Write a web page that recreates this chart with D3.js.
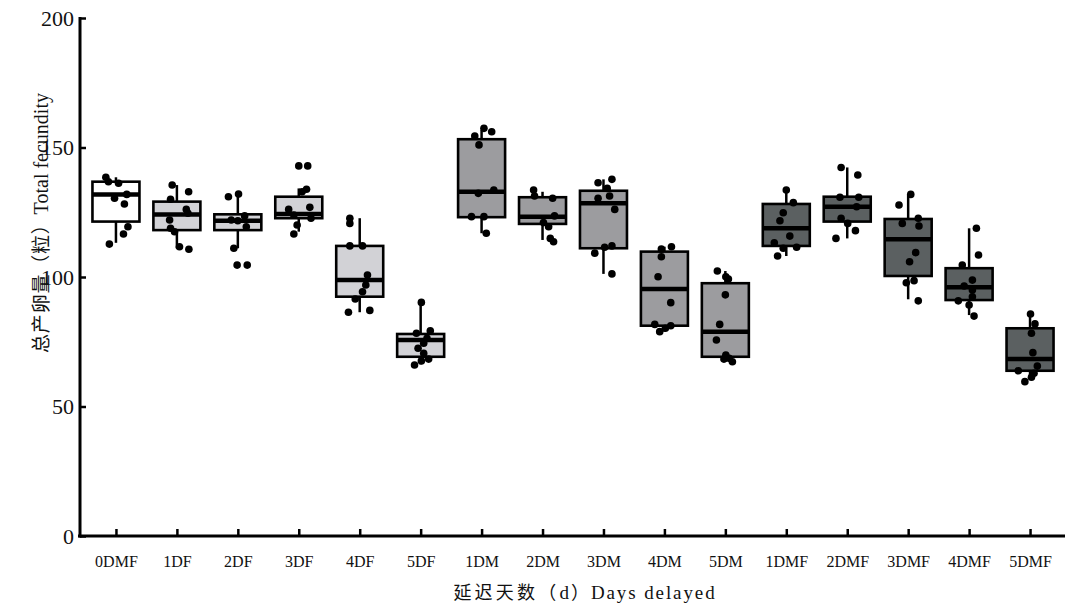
<!DOCTYPE html>
<html>
<head>
<meta charset="utf-8">
<script src="https://cdn.jsdelivr.net/npm/d3@7"></script>
<style>
  body { margin: 0; background: #fff; }
  svg text { font-family: "Liberation Serif", serif; fill: #111; }
  .cjk { font-family: "Noto Sans CJK SC", sans-serif; }
  .lat { font-family: "Liberation Serif", serif; }
</style>
</head>
<body>
<svg width="1065" height="605"></svg>
<script>
// categories on the x axis
const categories = ["0DMF", "1DF", "2DF", "3DF", "4DF", "5DF",
                    "1DM", "2DM", "3DM", "4DM", "5DM",
                    "1DMF", "2DMF", "3DMF", "4DMF", "5DMF"];
const yTicks = [0, 50, 100, 150, 200];

// box statistics
const whiskerLow  = [113.2, 111.1, 111.1, 117.5, 86.4, 66.3, 116.9, 114.3, 101.2, 78.9, 67.3, 108.1, 114.9, 91.4, 85.3, 61.5];
const q1          = [121.4, 118.1, 118.1, 122.7, 92.4, 69.2, 123.1, 120.5, 111.1, 81.2, 69.2, 112.0, 121.4, 100.4, 91.1, 63.8];
const median      = [131.9, 124.1, 121.7, 124.3, 98.8, 75.7, 132.9, 123.3, 128.5, 95.4, 78.9, 118.8, 127.1, 114.6, 96.0, 68.3];
const q3          = [136.8, 129.1, 124.2, 131.0, 112.0, 78.0, 153.2, 130.8, 133.3, 109.8, 97.6, 128.2, 131.0, 122.4, 103.4, 80.2];
const whiskerHigh = [138.5, 135.5, 132.0, 134.2, 122.7, 90.2, 156.8, 132.9, 137.7, 111.7, 102.3, 133.6, 142.3, 131.9, 118.8, 85.7];

// individual observations per group
const points = [
  [138.5, 136.8, 136.2, 130.4, 131.9, 128.2, 119.4, 116.6, 112.7],
  [135.5, 132.9, 130.0, 126.1, 124.6, 122.0, 118.8, 117.5, 111.7, 110.7],
  [131.0, 132.0, 122.0, 123.6, 119.4, 111.1, 104.6, 104.6, 121.7],
  [142.9, 142.9, 133.9, 132.9, 126.1, 126.9, 123.9, 122.7, 120.1, 116.6],
  [122.7, 120.7, 112.0, 112.0, 100.8, 96.9, 94.3, 91.5, 86.4, 87.1],
  [90.2, 78.3, 79.2, 76.3, 74.4, 72.5, 70.5, 68.3, 67.6, 66.0],
  [154.4, 157.4, 156.1, 151.0, 132.3, 133.6, 123.3, 123.3, 116.9],
  [133.6, 131.3, 130.4, 123.6, 119.4, 114.9, 113.6, 121.0],
  [136.4, 137.7, 134.2, 130.4, 131.3, 126.1, 111.5, 112.0, 109.2, 101.2],
  [110.8, 111.7, 107.8, 100.1, 90.1, 81.7, 81.2, 80.2, 78.9],
  [102.3, 100.1, 99.2, 93.1, 81.7, 75.7, 69.9, 68.6, 67.3, 68.3],
  [133.6, 128.7, 124.8, 121.7, 115.8, 113.2, 111.5, 111.1, 108.1],
  [142.3, 139.4, 130.8, 130.8, 127.1, 122.7, 120.7, 117.9, 114.9],
  [131.9, 127.8, 120.7, 122.7, 119.7, 109.4, 105.9, 97.8, 98.6, 90.8],
  [118.8, 108.5, 104.6, 98.8, 96.5, 95.0, 90.8, 92.4, 89.2, 84.9],
  [85.7, 81.9, 78.3, 70.8, 65.6, 63.8, 62.8, 61.3, 59.6]
];
// horizontal jitter of each observation, as a share of half the box width
const jitter = [
  [-0.43, -0.32, 0.11, -0.06, 0.46, 0.36, 0.51, 0.32, -0.28],
  [-0.2, 0.5, -0.27, 0.4, 0.47, -0.31, -0.27, -0.1, 0.11, 0.51],
  [-0.4, 0.03, -0.28, 0.29, 0.36, -0.17, -0.03, 0.4, 0],
  [0, 0.38, 0.33, 0.14, -0.43, 0.47, -0.21, 0.52, -0.07, -0.21],
  [-0.42, -0.42, -0.42, 0.12, 0.33, 0.26, 0.12, -0.19, -0.48, 0.43],
  [0.03, -0.18, 0.41, 0.27, 0.13, -0.11, 0.13, 0.34, 0.03, -0.26],
  [-0.29, 0.1, 0.43, -0.11, -0.14, 0.52, -0.43, 0.1, 0.2],
  [-0.38, -0.34, 0.43, 0.51, 0.26, 0.33, 0.47, 0.04],
  [-0.23, 0.36, 0.16, -0.23, 0.26, 0.48, 0.05, 0.36, -0.37, 0.36],
  [-0.13, 0.3, -0.13, -0.27, 0.27, -0.41, 0.27, 0.04, -0.2],
  [-0.34, 0.02, 0.13, 0, -0.24, -0.38, 0.02, 0.16, 0.3, -0.06],
  [0, 0.3, -0.13, -0.27, 0.15, -0.51, 0.44, -0.13, -0.37],
  [-0.26, 0.45, -0.31, 0.49, 0.4, -0.26, 0.02, 0.35, -0.48],
  [0.11, -0.39, -0.25, 0.43, 0.46, 0.32, 0.06, -0.08, 0.25, 0.43],
  [0.31, 0.4, -0.29, 0.14, -0.21, 0.14, -0.46, 0.14, 0, 0.21],
  [0.02, 0.21, 0.06, 0.12, 0.31, -0.5, 0.17, 0.06, -0.22]
];

const svg = d3.select("svg");
const g = svg.append("g");

const x = d3.scalePoint().domain(categories).range([80, 1066]).padding(0.59);
const y = d3.scaleLinear().domain([0, 200]).range([536, 18]);
const boxW = 47;

function fillFor(name) {
    if (name === "0DMF") return "#ffffff";
    if (name.endsWith("DMF")) return "#5b6061";
    if (name.endsWith("DM")) return "#9c9c9f";
    return "#d2d2d6";
}

const boxes = categories.map((c, i) => ({
    name: c, lo: whiskerLow[i], q1: q1[i], med: median[i], q3: q3[i], hi: whiskerHigh[i],
    pts: points[i].map((v, j) => ({v: v, j: jitter[i][j]}))
}));

const grp = g.selectAll("g.box").data(boxes).join("g")
    .attr("class", "box")
    .attr("transform", d => "translate(" + x(d.name) + ",0)");

// whiskers
grp.append("line")
    .attr("x1", 0).attr("x2", 0)
    .attr("y1", d => y(d.hi)).attr("y2", d => y(d.lo))
    .attr("stroke", "#000").attr("stroke-width", 2.5);

// boxes
grp.append("rect")
    .attr("x", -boxW / 2).attr("width", boxW)
    .attr("y", d => y(d.q3))
    .attr("height", d => y(d.q1) - y(d.q3))
    .attr("fill", d => fillFor(d.name))
    .attr("stroke", "#000").attr("stroke-width", 2.6);

// medians
grp.append("line")
    .attr("x1", -boxW / 2).attr("x2", boxW / 2)
    .attr("y1", d => y(d.med)).attr("y2", d => y(d.med))
    .attr("stroke", "#000").attr("stroke-width", 4.5);

// jittered points
grp.selectAll("circle").data(d => d.pts).join("circle")
    .attr("cx", d => d.j * boxW / 2)
    .attr("cy", d => y(d.v))
    .attr("r", 3.8)
    .attr("fill", "#000");

// axes
const yAxis = d3.axisLeft(y).tickValues(yTicks).tickSize(-6).tickPadding(6);
const yg = svg.append("g").attr("transform", "translate(80,0)").call(yAxis);
yg.select(".domain").remove();
yg.selectAll(".tick line").attr("stroke", "#000").attr("stroke-width", 2.5);
yg.selectAll(".tick text").attr("font-size", 22).attr("fill", "#222");

const xAxis = d3.axisBottom(x).tickSize(-7).tickPadding(20);
const xg = svg.append("g").attr("transform", "translate(0,536)").call(xAxis);
xg.select(".domain").remove();
xg.selectAll(".tick line").attr("stroke", "#000").attr("stroke-width", 2.5);
xg.selectAll(".tick text").attr("font-size", 16).attr("fill", "#222");

svg.append("line").attr("x1", 80).attr("x2", 80).attr("y1", 17).attr("y2", 537.5)
    .attr("stroke", "#000").attr("stroke-width", 3);
svg.append("line").attr("x1", 78).attr("x2", 1065).attr("y1", 536).attr("y2", 536)
    .attr("stroke", "#000").attr("stroke-width", 3);

// axis titles, CJK and Latin parts set in separate fonts
const xTitle = svg.append("text")
    .attr("x", 585).attr("y", 599)
    .attr("text-anchor", "middle")
    .attr("font-size", 18)
    .attr("fill", "#222");
xTitle.append("tspan").attr("class", "cjk").attr("letter-spacing", 3.2).text("延迟天数（");
xTitle.append("tspan").attr("class", "lat").attr("font-size", 19).attr("letter-spacing", 2).text("d");
xTitle.append("tspan").attr("class", "cjk").attr("letter-spacing", 2).text("）");
xTitle.append("tspan").attr("class", "lat").attr("font-size", 19).attr("letter-spacing", 1.9).text("Days delayed");

const yTitle = svg.append("text")
    .attr("transform", "translate(48,223) rotate(-90)")
    .attr("text-anchor", "middle")
    .attr("font-size", 19)
    .attr("fill", "#222");
yTitle.append("tspan").attr("class", "cjk").attr("letter-spacing", 0.8).text("总产卵量（粒）");
yTitle.append("tspan").attr("class", "lat").attr("font-size", 20).text("Total fecundity");
</script>
</body>
</html>
